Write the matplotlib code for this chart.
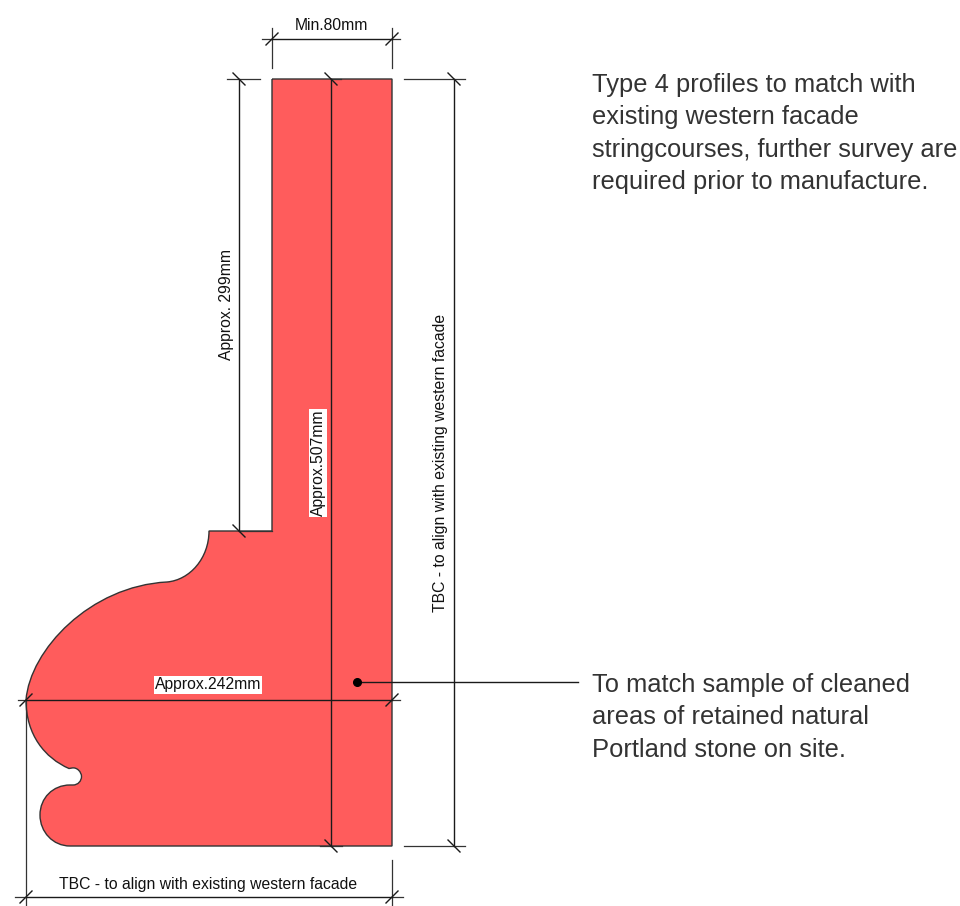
import matplotlib
matplotlib.use("Agg")
import matplotlib.pyplot as plt
from matplotlib.path import Path
from matplotlib.patches import PathPatch

plt.rcParams['font.family'] = ['Liberation Sans', 'DejaVu Sans']

# stone profile, all in drawing units (picture pixels), clockwise from top left
# L = straight line to point, C = cubic curve (two handles then end point)
profile_steps = [
    ("L", [(392, 79)]),
    ("L", [(392, 846)]),
    ("L", [(70, 846)]),
    ("C", [(53, 846), (40, 832), (40, 815)]),
    ("C", [(40, 798), (53, 785), (70, 785)]),
    ("L", [(73, 785)]),
    ("C", [(78, 785), (81.5, 781), (81.5, 776.5)]),
    ("C", [(81.5, 772), (77, 767), (72, 768)]),
    ("L", [(69, 768.5)]),
    ("C", [(45, 758), (26, 735), (26, 700)]),
    ("C", [(30, 650), (90, 586), (167, 582)]),
    ("C", [(190, 580), (209, 558), (209, 531)]),
    ("L", [(272, 531)]),
    ("L", [(272, 79)]),
]
profile_start = (272, 79)

# dimension lines (x0, y0, x1, y1), slash ticks go on both ends
dim_lines = [
    (272, 39, 392, 39),
    (239, 79, 239, 531),
    (331, 79, 331, 846),
    (454, 79, 454, 846),
    (26, 700, 392, 700),
    (26, 897, 392, 897),
]
# extension lines
ext_lines = [
    (272, 28, 272, 68),
    (392, 28, 392, 68),
    (227, 79, 260, 79),
    (331, 79, 341, 79),
    (404, 79, 465, 79),
    (404, 846, 465, 846),
    (320, 846, 342, 846),
    (26, 700, 26, 905),
    (392, 860, 392, 905),
    (18, 700, 26, 700),
    (392, 700, 400, 700),
    (15, 897, 26, 897),
    (392, 897, 403, 897),
    (262, 39, 272, 39),
    (392, 39, 400, 39),
    (239, 531, 272, 531),
]
# slash direction per dimension: +1 rises to the right, -1 falls to the right
dim_slash = [1, -1, -1, -1, 1, 1]

dim_labels = [
    ("Min.80mm", 331, 25, 0, False),
    ("Approx. 299mm", 226, 305, 90, False),
    ("Approx.507mm", 318, 463, 90, True),
    ("TBC - to align with existing western facade", 441, 463, 90, False),
    ("Approx.242mm", 208, 685, 0, True),
    ("TBC - to align with existing western facade", 208, 885, 0, False),
]

note_top = ["Type 4 profiles to match with", "existing western facade",
            "stringcourses, further survey are", "required prior to manufacture."]
note_top_y = [85, 117, 150, 182]
note_bottom = ["To match sample of cleaned", "areas of retained natural",
               "Portland stone on site."]
note_bottom_y = [685, 717, 750]
leader = (357, 682, 578, 682)

fill_red = "#ff5c5c"
ink = "#1a1a1a"
text_col = "#333333"

fig = plt.figure(figsize=(9.6, 9.06), dpi=100)
ax = fig.add_axes([0, 0, 1, 1])
ax.set_xlim(0, 960)
ax.set_ylim(906, 0)
ax.axis("off")

verts = [profile_start]
codes = [Path.MOVETO]
for kind, pts in profile_steps:
    verts.extend(pts)
    codes.extend([Path.LINETO] if kind == "L" else [Path.CURVE4] * 3)
ax.add_patch(PathPatch(Path(verts, codes), facecolor=fill_red, edgecolor="#333333", lw=1.0, zorder=1))

for x0, y0, x1, y1 in ext_lines:
    ax.plot([x0, x1], [y0, y1], color="#333333", lw=0.9, zorder=2)

for (x0, y0, x1, y1), s in zip(dim_lines, dim_slash):
    ax.plot([x0, x1], [y0, y1], color=ink, lw=1.0, zorder=3)
    for x, y in [(x0, y0), (x1, y1)]:
        ax.plot([x - 6, x + 6], [y + 6 * s, y - 6 * s], color=ink, lw=1.0, zorder=3)

for txt, x, y, rot, boxed in dim_labels:
    bbox = dict(facecolor="white", edgecolor="none", pad=0.8) if boxed else None
    ax.text(x, y, txt, rotation=rot, ha="center", va="center", fontsize=11.3,
            color="#111111", bbox=bbox, zorder=4)

for line, y in zip(note_top, note_top_y):
    ax.text(592, y, line, fontsize=18.4, color=text_col, va="center", ha="left")
for line, y in zip(note_bottom, note_bottom_y):
    ax.text(592, y, line, fontsize=18.4, color=text_col, va="center", ha="left")

ax.plot([leader[0], leader[2]], [leader[1], leader[3]], color=ink, lw=1.0, zorder=3)
ax.plot([leader[0]], [leader[1]], "o", color="black", ms=5.5, zorder=4)

fig.savefig("out.png", dpi=100)
